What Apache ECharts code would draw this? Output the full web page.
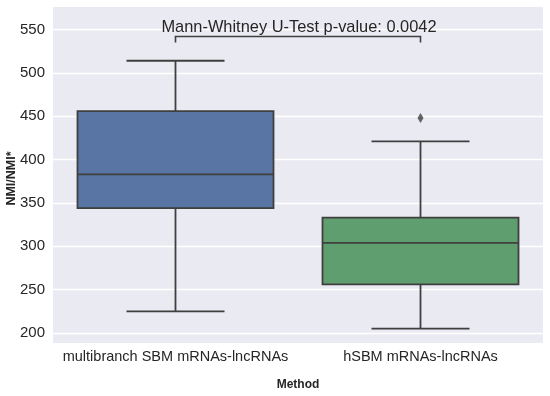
<!DOCTYPE html>
<html>
<head>
<meta charset="utf-8">
<script src="https://cdn.jsdelivr.net/npm/echarts@6/dist/echarts.min.js"></script>
<style>html,body{margin:0;padding:0;background:#fff}#c{width:550px;height:396px}</style>
</head>
<body>
<div id="c"></div>
<script>
const categories = ['multibranch SBM mRNAs-lncRNAs', 'hSBM mRNAs-lncRNAs'];
const whiskerLow = [225, 205];
const q1 = [344, 256];
const median = [383, 304];
const q3 = [456, 333];
const whiskerHigh = [514, 421];
const outliers = [[1, 448]];
const bracketLevel = 542;
const bracketTickEnd = 535;
const annotationText = 'Mann-Whitney U-Test p-value: 0.0042';
const yMin = 188.5, yMax = 576;

const FONT = "'Liberation Sans', Arial, sans-serif";
const boxColors = ['#5975A4', '#5F9E6E'];
const lineColor = '#3f3f3f';
const LW = 1.8;

const boxData = categories.map((c, i) => [i, whiskerLow[i], q1[i], median[i], q3[i], whiskerHigh[i]]);

const chart = echarts.init(document.getElementById('c'), null, {renderer: 'canvas'});
chart.setOption({
  animation: false,
  backgroundColor: '#ffffff',
  grid: {left: 53, right: 7, top: 7, bottom: 53, show: true, backgroundColor: '#EAEAF2', borderWidth: 0,
    containLabel: false, outerBoundsMode: 'none'},
  xAxis: {
    type: 'category', data: categories, boundaryGap: true,
    axisLine: {show: false}, axisTick: {show: false}, splitLine: {show: false},
    axisLabel: {fontFamily: FONT, fontSize: 14.5, color: '#262626', margin: 6, interval: 0, hideOverlap: false},
    name: 'Method', nameLocation: 'middle', nameGap: 36, nameMoveOverlap: false,
    nameTextStyle: {fontFamily: FONT, fontSize: 12, fontWeight: 'bold', color: '#262626'}
  },
  yAxis: {
    type: 'value', min: yMin, max: yMax, splitNumber: 8,
    axisLine: {show: false}, axisTick: {show: false},
    splitLine: {show: true, showMinLine: false, showMaxLine: false, lineStyle: {color: '#ffffff', width: 1.3}},
    axisLabel: {fontFamily: FONT, fontSize: 15, color: '#262626', margin: 8, showMinLabel: false, showMaxLabel: false,
      formatter: v => (Math.abs(v % 50) < 1e-6 ? String(v) : '')},
    name: 'NMI/NMI*', nameLocation: 'middle', nameGap: 35, nameMoveOverlap: false,
    nameTextStyle: {fontFamily: FONT, fontSize: 12.5, fontWeight: 'bold', color: '#262626', padding: [0, 7, 0, 0]}
  },
  series: [
    {
      type: 'custom',
      data: boxData,
      encode: {x: 0, y: [1, 2, 3, 4, 5]},
      renderItem: function (params, api) {
        const xi = api.value(0);
        const pLow = api.coord([xi, api.value(1)]);
        const pQ1 = api.coord([xi, api.value(2)]);
        const pMed = api.coord([xi, api.value(3)]);
        const pQ3 = api.coord([xi, api.value(4)]);
        const pHigh = api.coord([xi, api.value(5)]);
        const band = api.size([1, 0])[0];
        const half = band * 0.8 / 2;
        const cap = half / 2;
        const cx = pMed[0];
        const ls = {stroke: lineColor, lineWidth: LW};
        return {
          type: 'group',
          children: [
            {type: 'line', shape: {x1: cx, y1: pQ1[1], x2: cx, y2: pLow[1]}, style: ls},
            {type: 'line', shape: {x1: cx, y1: pQ3[1], x2: cx, y2: pHigh[1]}, style: ls},
            {type: 'line', shape: {x1: cx - cap, y1: pLow[1], x2: cx + cap, y2: pLow[1]}, style: ls},
            {type: 'line', shape: {x1: cx - cap, y1: pHigh[1], x2: cx + cap, y2: pHigh[1]}, style: ls},
            {type: 'rect', shape: {x: cx - half, y: pQ3[1], width: half * 2, height: pQ1[1] - pQ3[1]},
              style: {fill: boxColors[xi], stroke: lineColor, lineWidth: LW}},
            {type: 'line', shape: {x1: cx - half, y1: pMed[1], x2: cx + half, y2: pMed[1]}, style: ls}
          ]
        };
      },
      z: 3
    },
    {
      type: 'scatter',
      data: outliers,
      symbol: 'diamond',
      symbolSize: [6, 10],
      itemStyle: {color: lineColor},
      z: 4
    },
    {
      type: 'custom',
      data: [[0, bracketLevel, bracketTickEnd]],
      encode: {x: 0, y: [1, 2]},
      renderItem: function (params, api) {
        const pA = api.coord([0, api.value(1)]);
        const pB = api.coord([1, api.value(1)]);
        const tA = api.coord([0, api.value(2)]);
        const ls = {stroke: lineColor, lineWidth: 1.6, fill: null};
        return {
          type: 'group',
          children: [
            {type: 'polyline', shape: {points: [[pA[0], tA[1]], [pA[0], pA[1]], [pB[0], pB[1]], [pB[0], tA[1]]]}, style: ls},
            {type: 'text', style: {text: annotationText, x: (pA[0] + pB[0]) / 2 + 1, y: pA[1] - 0.5,
              align: 'center', verticalAlign: 'bottom', font: "16.4px 'Liberation Sans', Arial, sans-serif", fill: '#262626'}}
          ]
        };
      },
      z: 5
    }
  ]
});
</script>
</body>
</html>
